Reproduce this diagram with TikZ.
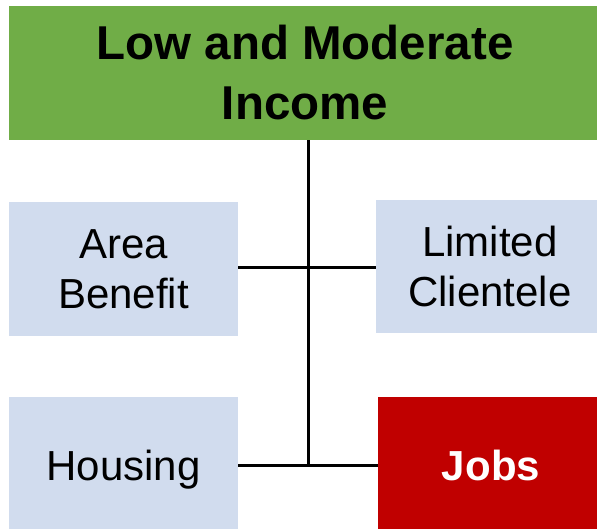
\documentclass[tikz,border=0pt]{standalone}
\usepackage{fontspec}
\setmainfont{Liberation Sans}
\usepackage{tikz}
\usetikzlibrary{positioning,calc}
\definecolor{lmigreen}{HTML}{70AD47}
\definecolor{catblue}{HTML}{D1DCEE}
\definecolor{jobsred}{HTML}{C00000}

\begin{document}
\begin{tikzpicture}[x=1pt,y=-1pt,
  catbox/.style={fill=catblue,inner sep=0pt,minimum width=229pt,minimum height=134pt,align=center,font=\fontsize{42}{50}\selectfont},
  link/.style={line width=3pt,black}]
\useasboundingbox (0,0) rectangle (597,528);
\node[fill=lmigreen,inner sep=0pt,minimum width=592pt,minimum height=134pt,align=center,font=\fontsize{47.5}{60}\selectfont\bfseries] (lmi) at (305,73) {Low and Moderate\\Income};
\node[catbox] (area) at (123.5,269) {Area\\Benefit};
\node[catbox,minimum width=228pt,minimum height=133pt] (limited) at (490,266.5) {Limited\\Clientele};
\node[catbox,minimum height=136pt,text depth=0pt] (housing) at (123.5,465) {Housing};
\node[catbox,fill=jobsred,text=white,font=\fontsize{42}{50}\selectfont\bfseries,minimum width=226pt,minimum height=136pt,text depth=0pt] (jobs) at (491,465) {Jobs};
\coordinate (stem) at (308,465);
\coordinate (cross) at (308,267);
\draw[link] (lmi.south -| stem) -- (stem);
\draw[link] (area.east |- cross) -- (limited.west |- cross);
\draw[link] (housing.east |- stem) -- (jobs.west |- stem);
\end{tikzpicture}
\end{document}
